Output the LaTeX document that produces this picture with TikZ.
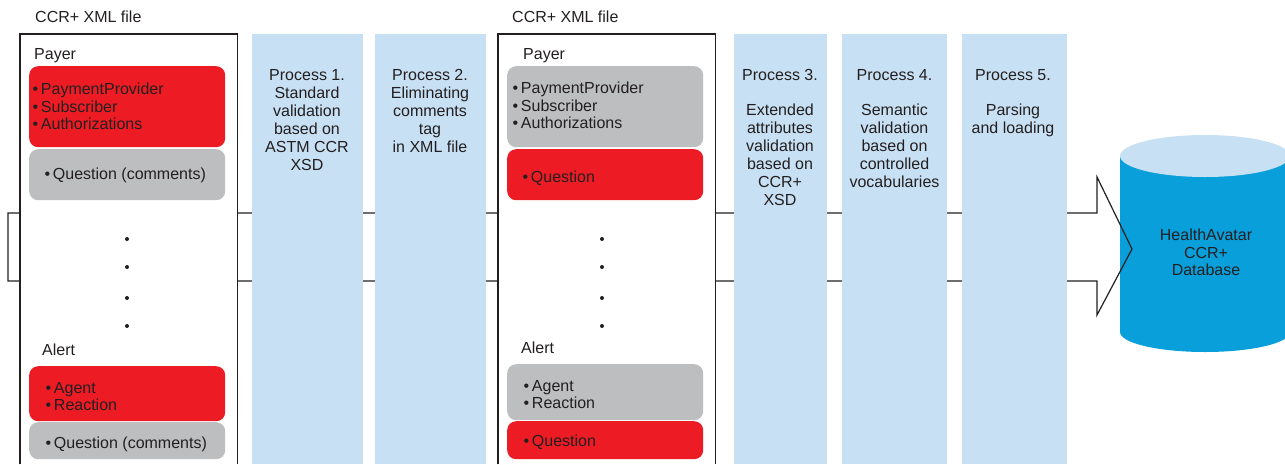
\documentclass[tikz,border=0pt]{standalone}
\usepackage{fontspec}
\setmainfont{Liberation Sans}
\definecolor{ink}{RGB}{35,31,32}
\definecolor{alertred}{RGB}{237,28,36}
\definecolor{softgray}{RGB}{188,190,192}
\definecolor{paleblue}{RGB}{200,224,243}
\definecolor{dbblue}{RGB}{8,159,218}
\tikzset{
  txt/.style={inner sep=0pt, text=ink, font=\fontsize{16}{18}\selectfont},
  listtxt/.style={txt, align=left, anchor=north west, font=\fontsize{16}{17.5}\selectfont},
  stagetxt/.style={txt, align=center, anchor=north},
  stagecol/.style={fill=paleblue, draw=none, anchor=north west, minimum height=430pt, inner sep=0pt},
  fileframe/.style={fill=white, draw=none, anchor=north west, minimum width=217pt, minimum height=430pt, inner sep=0pt},
  framepen/.style={draw=ink, line width=1.2pt},
  itembox/.style={draw=none, rounded corners=9pt, anchor=north west, minimum width=196pt, inner sep=0pt},
  redbox/.style={itembox, fill=alertred},
  graybox/.style={itembox, fill=softgray},
  vdot/.style={circle, fill=ink, inner sep=0pt, minimum size=4pt},
}
\begin{document}
\begin{tikzpicture}[x=1pt, y=-1pt]
\useasboundingbox (0,0) rectangle (1285,464);

% database cylinder
\coordinate (db) at (1205,244);
\fill[dbblue] (1120,156) -- (1120,332) arc[start angle=180, end angle=0, x radius=85, y radius=20] -- (1290,156) -- cycle;
\fill[paleblue] (1205,156) ellipse [x radius=85, y radius=21];
\node[txt, align=center, anchor=north, font=\fontsize{16}{17.5}\selectfont] (dbtext) at (1206,229) {HealthAvatar\\CCR+\\Database};

% the flow band with its arrow head
\coordinate (bandtip) at (1132,249);
\draw[framepen] (8,213) -- (1097,213) -- (1097,177) -- (bandtip) -- (1097,315) -- (1097,281) -- (8,281) -- cycle;

% input file
\node[fileframe] (fileA) at (20,34) {};
\draw[framepen] (fileA.south west) -- (fileA.north west) -- (fileA.north east) -- (fileA.south east);
% processed file
\node[fileframe] (fileB) at (498,34) {};
\draw[framepen] (fileB.south west) -- (fileB.north west) -- (fileB.north east) -- (fileB.south east);

% process columns
\node[stagecol, minimum width=111pt] (p1) at (252,34) {};
\node[stagecol, minimum width=111pt] (p2) at (375,34) {};
\node[stagecol, minimum width=93pt] (p3) at (734,34) {};
\node[stagecol, minimum width=105pt] (p4) at (842,34) {};
\node[stagecol, minimum width=105pt] (p5) at (962,34) {};

\node[stagetxt] (p1text) at (307,69) {Process 1.\\Standard\\validation\\based on\\ASTM CCR\\XSD};
\node[stagetxt] (p2text) at (430,69) {Process 2.\\Eliminating\\comments\\tag\\in XML file};
\node[stagetxt] (p3text) at (780,69) {Process 3.\\[17pt]Extended\\attributes\\validation\\based on\\CCR+\\XSD};
\node[stagetxt] (p4text) at (894.5,69) {Process 4.\\[17pt]Semantic\\validation\\based on\\controlled\\vocabularies};
\node[stagetxt] (p5text) at (1013,69) {Process 5.\\[17pt]Parsing\\and loading};

% contents of the input file
\node[txt, anchor=base west] (labelA) at (35,22) {CCR+ XML file};
\node[txt, anchor=base west] (payerA) at (34,59) {Payer};
\node[redbox, minimum height=81pt] (payerA1) at (29,66) {};
\node[graybox, minimum height=51pt] (payerA2) at (29,149) {};
\node[listtxt] (payerAlist) at (32.5,83) {•\,PaymentProvider\\•\,Subscriber\\•\,Authorizations};
\node[txt, anchor=base west] (payerAq) at (44.5,179) {•\,Question (comments)};
\foreach \y [count=\i] in {239,267,298,326} \node[vdot] (dotA\i) at (127,\y) {};
\node[txt, anchor=base west] (alertA) at (42,355) {Alert};
\node[redbox, minimum height=55pt] (alertA1) at (29,366) {};
\node[graybox, minimum height=37pt] (alertA2) at (29,422) {};
\node[listtxt] (alertAlist) at (45.5,382) {•\,Agent\\•\,Reaction};
\node[txt, anchor=base west] (alertAq) at (45.5,448) {•\,Question (comments)};

% contents of the processed file
\node[txt, anchor=base west] (labelB) at (512,22) {CCR+ XML file};
\node[txt, anchor=base west] (payerB) at (523,59) {Payer};
\node[graybox, minimum height=81pt] (payerB1) at (507,66) {};
\node[redbox, minimum height=51pt] (payerB2) at (507,149) {};
\node[listtxt] (payerBlist) at (512.5,82) {•\,PaymentProvider\\•\,Subscriber\\•\,Authorizations};
\node[txt, anchor=base west] (payerBq) at (522.5,182) {•\,Question};
\foreach \y [count=\i] in {239,267,298,326} \node[vdot] (dotB\i) at (602,\y) {};
\node[txt, anchor=base west] (alertB) at (521,353) {Alert};
\node[graybox, minimum height=56pt] (alertB1) at (507,364) {};
\node[redbox, minimum height=38pt] (alertB2) at (507,421) {};
\node[listtxt] (alertBlist) at (523.5,380) {•\,Agent\\•\,Reaction};
\node[txt, anchor=base west] (alertBq) at (523.5,446) {•\,Question};
\end{tikzpicture}
\end{document}
